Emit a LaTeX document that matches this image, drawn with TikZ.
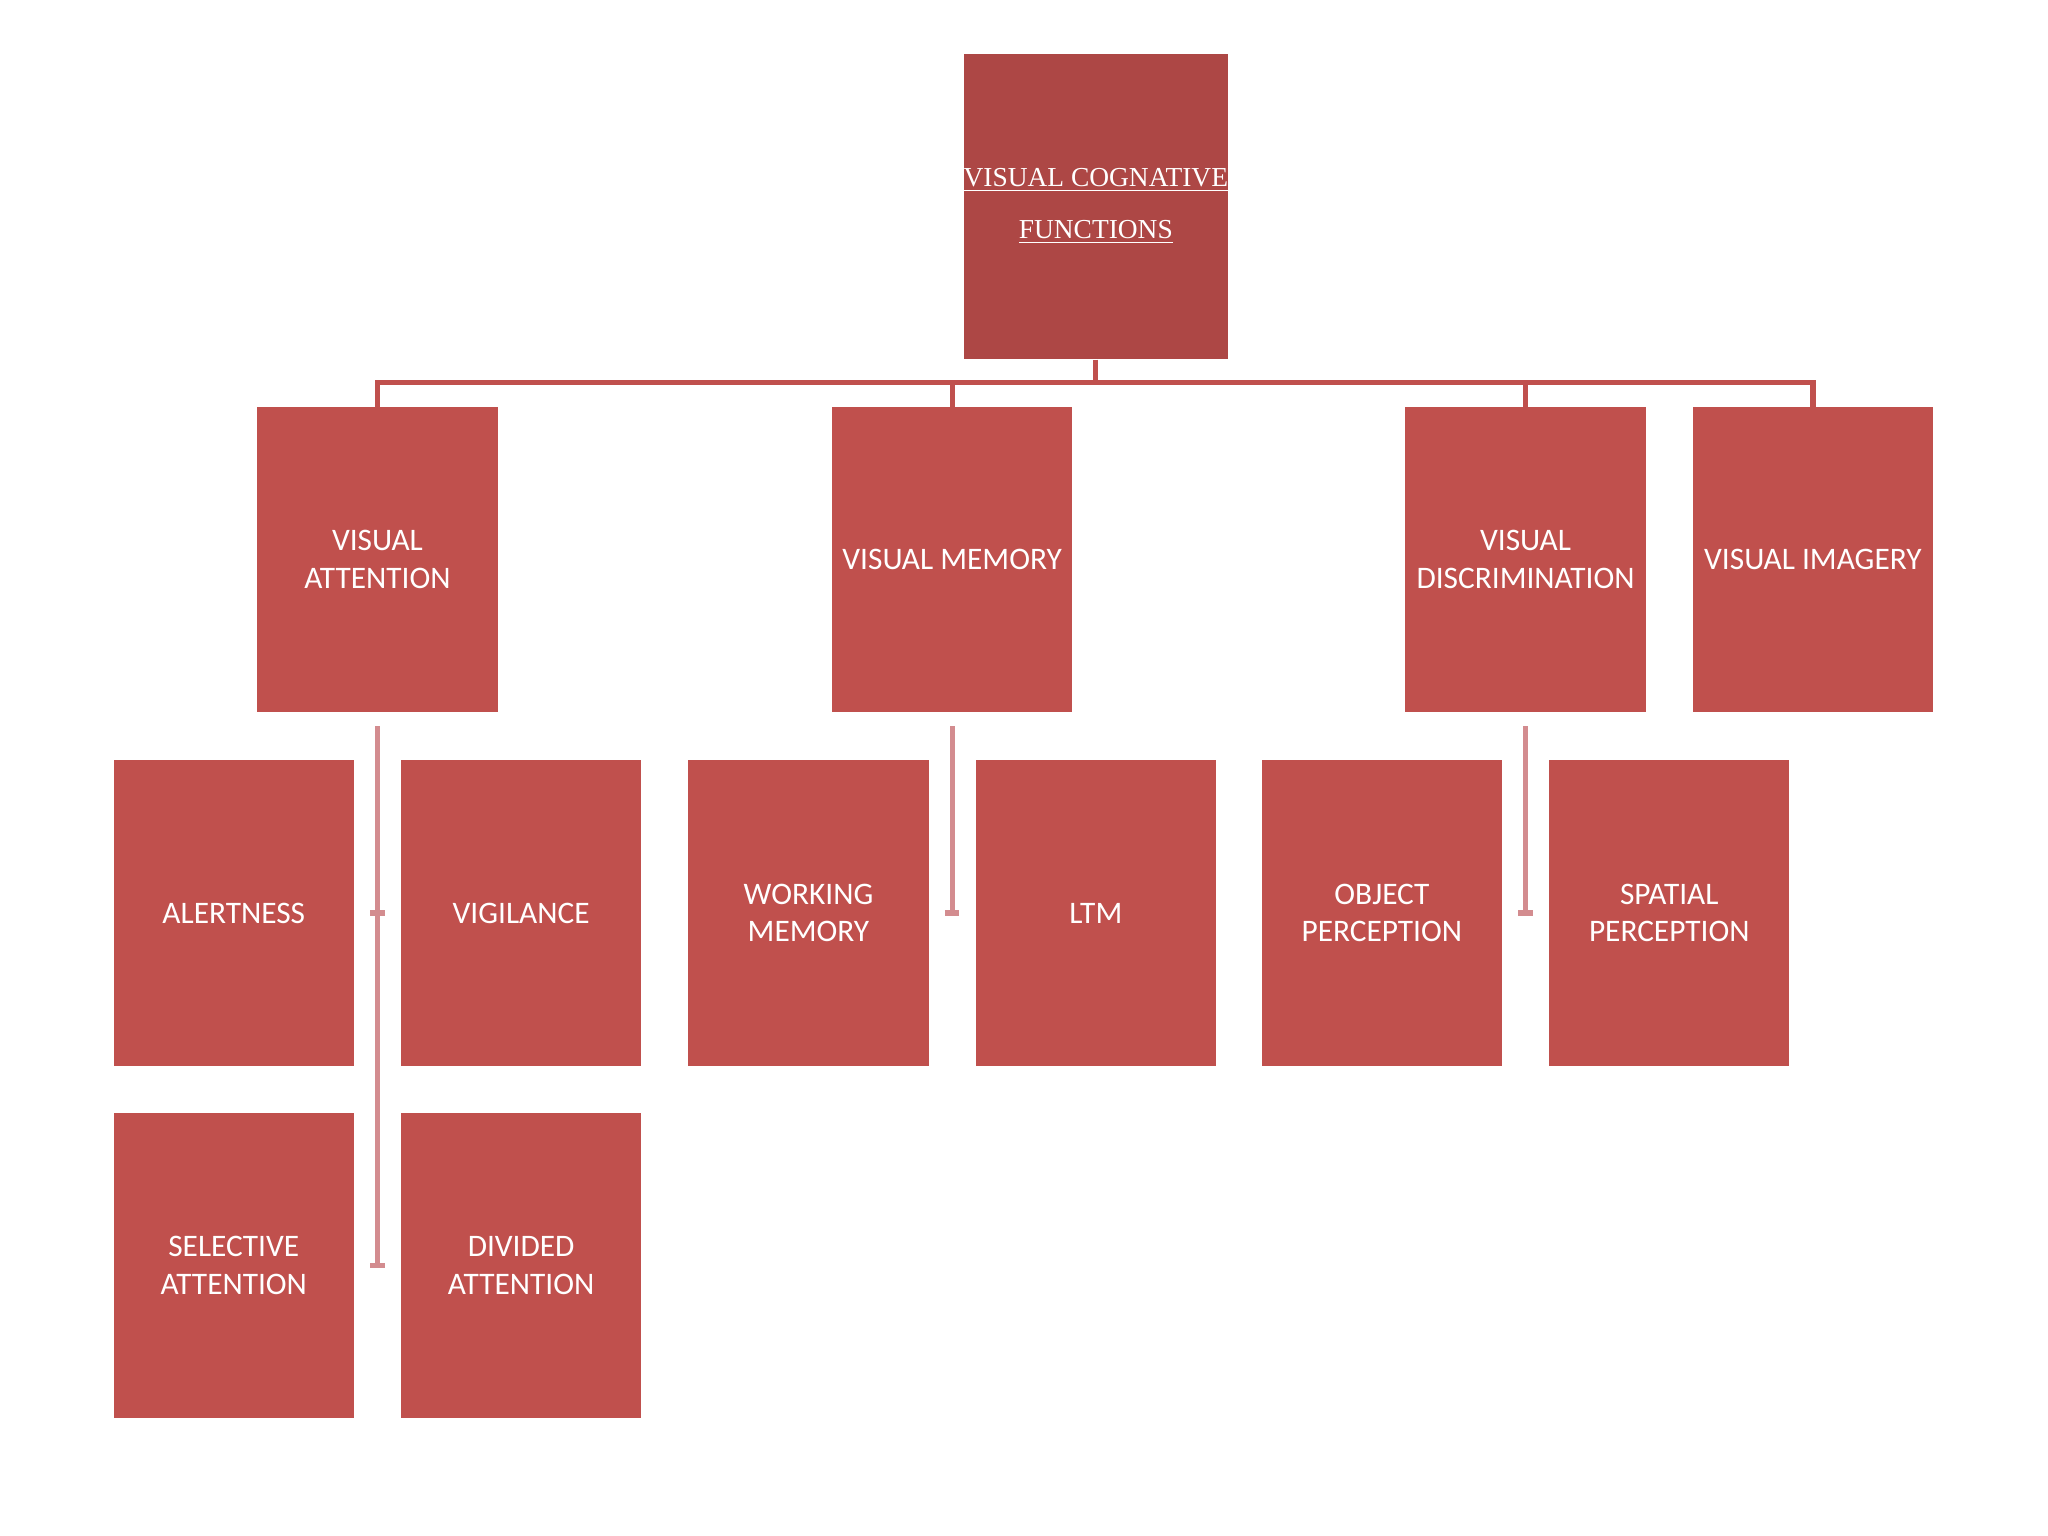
\documentclass[tikz,border=0pt]{standalone}
\usepackage{fontspec}
\setmainfont{Carlito}
\newfontfamily\topfont{Liberation Serif}
\begin{document}
\begin{tikzpicture}[x=0.5pt,y=-0.5pt,
  box/.style={fill=boxred,draw=none,minimum width=92pt,minimum height=117pt,text=white,align=center,font=\fontsize{12}{14.5}\selectfont,inner sep=0pt},
  conn/.style={draw=linered,line width=2pt},
  sub/.style={draw=linepink,line width=2pt}]
\definecolor{boxred}{HTML}{C0504D}
\definecolor{topred}{HTML}{AD4745}
\definecolor{linered}{HTML}{C0504D}
\definecolor{linepink}{HTML}{D38C8F}
\useasboundingbox[fill=white] (0,0) rectangle (1568,1176);
\node[box,fill=topred,font=\topfont\fontsize{10.5}{20}\selectfont] (top) at (839,158) {\underline{VISUAL COGNATIVE}\\\underline{FUNCTIONS}};
\node[box] (va) at (289,428.5) {VISUAL\\ATTENTION};
\node[box] (vm) at (729,428.5) {VISUAL MEMORY};
\node[box] (vd) at (1168,428.5) {VISUAL\\DISCRIMINATION};
\node[box] (vi) at (1388,428.5) {VISUAL IMAGERY};
\node[box] (al) at (179,699) {ALERTNESS};
\node[box] (vg) at (399,699) {VIGILANCE};
\node[box] (wm) at (619,699) {WORKING\\MEMORY};
\node[box] (ltm) at (839,699) {LTM};
\node[box] (op) at (1058,699) {OBJECT\\PERCEPTION};
\node[box] (sp) at (1278,699) {SPATIAL\\PERCEPTION};
\node[box] (sa) at (179,969) {SELECTIVE\\ATTENTION};
\node[box] (da) at (399,969) {DIVIDED\\ATTENTION};
\coordinate (bus) at (839,293);
\draw[conn] (top.south) -- (bus);
\draw[conn] ([yshift=-12]va.north) -- (va.north |- bus) -- (vi.north |- bus) -- ([yshift=-12]vi.north);
\draw[conn] (vm.north |- bus) -- ([yshift=-12]vm.north);
\draw[conn] (vd.north |- bus) -- ([yshift=-12]vd.north);
\draw[sub] ([yshift=-5]va.south) -- (va.south |- sa.center);
\draw[sub] ([xshift=6]al.east) -- ([xshift=-6]vg.west);
\draw[sub] ([xshift=6]sa.east) -- ([xshift=-6]da.west);
\draw[sub] ([yshift=-5]vm.south) -- (vm.south |- wm.center);
\draw[sub] ([xshift=6]wm.east) -- ([xshift=-6]ltm.west);
\draw[sub] ([yshift=-5]vd.south) -- (vd.south |- op.center);
\draw[sub] ([xshift=6]op.east) -- ([xshift=-6]sp.west);
\end{tikzpicture}
\end{document}
